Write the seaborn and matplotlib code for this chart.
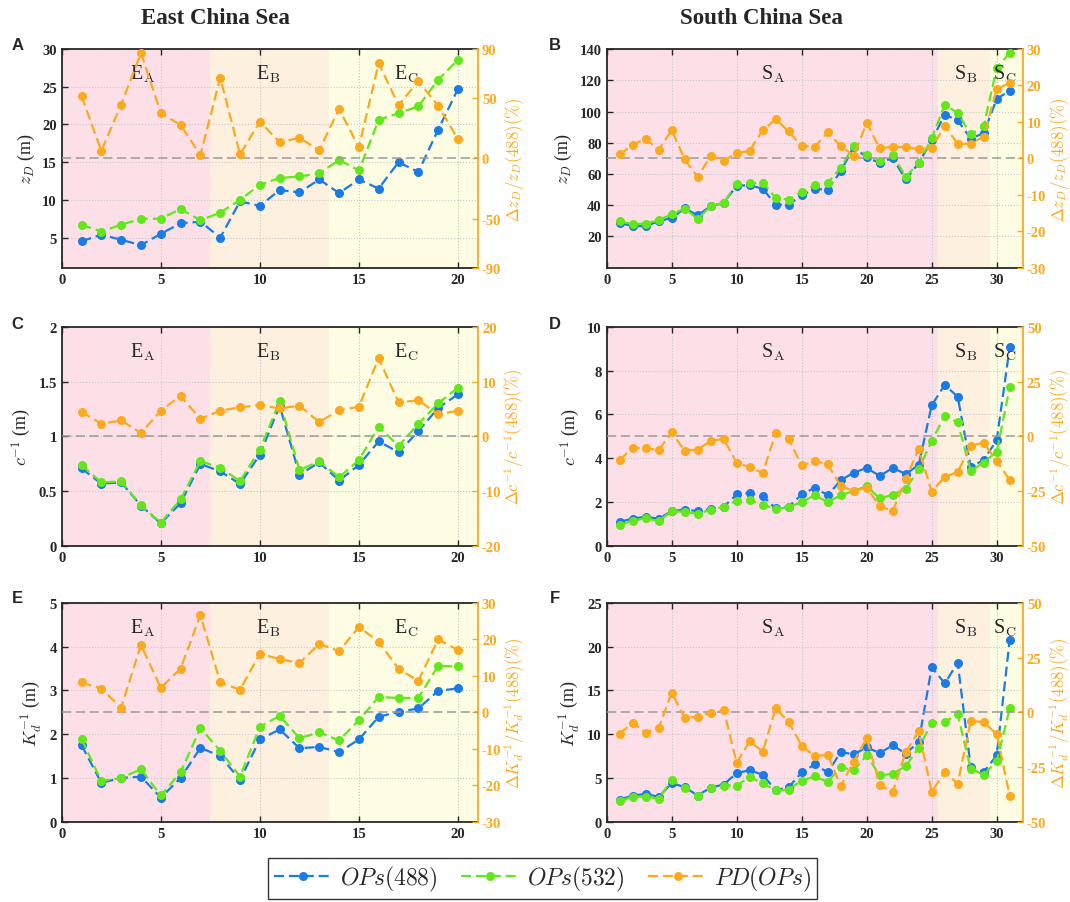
import numpy as np
import matplotlib
matplotlib.use('Agg')
import matplotlib.pyplot as plt
from matplotlib.lines import Line2D
from matplotlib.ticker import FuncFormatter
import seaborn as sns

# estaciones
stations_ecs = np.arange(1, 21)
stations_scs = np.arange(1, 32)

# z_D (m)
zd488_ecs = [4.5, 5.4, 4.7, 4.0, 5.5, 6.9, 7.1, 5.0, 9.8, 9.2, 11.3, 11.0, 12.7, 10.9, 12.7, 11.5, 15.0, 13.7, 19.3, 24.7]
zd532_ecs = [6.7, 5.8, 6.7, 7.5, 7.5, 8.8, 7.3, 8.3, 10.0, 12.0, 12.9, 13.1, 13.5, 15.3, 13.9, 20.6, 21.5, 22.4, 25.9, 28.6]
pd_zd_ecs = [51.2, 6.1, 44.3, 86.7, 37.4, 27.4, 2.8, 66.5, 3.3, 30.2, 13.3, 16.9, 6.6, 40.7, 9.1, 78.4, 43.8, 63.4, 43.5, 15.8]

zd488_scs = [28.7, 26.6, 26.6, 29.8, 31.9, 38.0, 33.6, 39.4, 41.5, 52.6, 52.8, 50.6, 40.4, 40.4, 46.4, 50.4, 50.0, 61.7,
             77.3, 70.6, 67.2, 70.2, 56.6, 67.0, 81.5, 97.9, 94.5, 82.6, 86.2, 108.0, 113.4]
zd532_scs = [29.6, 27.9, 28.3, 30.4, 34.3, 37.9, 31.3, 39.4, 41.5, 53.6, 54.0, 54.5, 44.7, 43.6, 48.5, 52.8, 54.3, 64.0,
             77.9, 72.1, 68.1, 72.3, 58.3, 67.0, 82.8, 104.3, 99.1, 85.3, 90.6, 128.0, 137.4]
pd_zd_scs = [1.1, 3.7, 5.4, 2.3, 7.8, -0.3, -5.1, 0.7, -0.6, 1.4, 2.1, 7.7, 10.7, 7.4, 3.4, 3.2, 7.1, 3.4, 0.7, 9.7,
             2.8, 3.2, 3.1, 2.5, 2.8, 8.9, 4.0, 4.0, 6.0, 19.0, 20.7]

# c^-1 (m)
c488_ecs = [0.707, 0.567, 0.579, 0.366, 0.204, 0.39, 0.747, 0.68, 0.564, 0.832, 1.28, 0.649, 0.762, 0.595, 0.738,
            0.954, 0.854, 1.046, 1.259, 1.384]
c532_ecs = [0.735, 0.579, 0.588, 0.369, 0.21, 0.424, 0.774, 0.713, 0.591, 0.878, 1.32, 0.692, 0.771, 0.625, 0.783,
            1.088, 0.912, 1.113, 1.302, 1.445]
pd_c_ecs = [4.5, 2.3, 2.9, 0.6, 4.7, 7.4, 3.2, 4.7, 5.3, 5.7, 5.1, 5.6, 2.6, 4.8, 5.4, 14.3, 6.2, 6.6, 4.0, 4.7]

c488_scs = [1.09, 1.24, 1.32, 1.23, 1.58, 1.65, 1.58, 1.68, 1.78, 2.34, 2.42, 2.27, 1.70, 1.79, 2.34, 2.65, 2.31, 2.99,
            3.34, 3.55, 3.19, 3.55, 3.28, 3.69, 6.42, 7.35, 6.81, 3.60, 3.92, 4.82, 9.08]
c532_scs = [0.96, 1.13, 1.26, 1.12, 1.58, 1.55, 1.45, 1.65, 1.78, 2.05, 2.08, 1.88, 1.68, 1.76, 1.99, 2.31, 1.99, 2.31,
            2.50, 2.73, 2.16, 2.33, 2.60, 3.49, 4.79, 5.94, 5.64, 3.42, 3.80, 4.29, 7.24]
pd_c_scs = [-10.8, -5.2, -5.5, -6.3, 1.8, -6.6, -6.1, -2.1, -1.2, -12.2, -14.0, -16.8, 1.4, -1.4, -13.3, -11.3, -12.8,
            -22.7, -25.0, -23.5, -31.9, -34.1, -19.7, -5.6, -25.3, -18.6, -16.3, -4.3, -2.9, -11.3, -20.0]

# K_d^-1 (m)
k488_ecs = [1.75, 0.89, 1.0, 1.03, 0.55, 1.0, 1.69, 1.50, 0.96, 1.88, 2.11, 1.68, 1.71, 1.59, 1.88, 2.40, 2.51, 2.59,
            2.99, 3.05]
k532_ecs = [1.89, 0.93, 1.0, 1.20, 0.60, 1.13, 2.14, 1.62, 1.03, 2.17, 2.42, 1.91, 2.04, 1.86, 2.32, 2.85, 2.83, 2.83,
            3.56, 3.55]
pd_k_ecs = [8.2, 6.5, 1.3, 18.5, 6.7, 12.0, 26.7, 8.2, 6.2, 16.1, 14.6, 13.5, 18.8, 16.8, 23.4, 19.4, 11.9, 8.7, 20.0, 17.1]

k488_scs = [2.53, 2.99, 3.18, 2.84, 4.41, 3.95, 2.99, 3.91, 4.25, 5.56, 5.90, 5.36, 3.60, 3.95, 5.63, 6.55, 5.63, 7.97,
            7.70, 8.51, 7.85, 8.74, 7.78, 9.12, 17.66, 15.82, 18.16, 6.25, 5.67, 7.59, 20.8]
k532_scs = [2.34, 2.87, 2.87, 2.64, 4.79, 3.83, 2.95, 3.83, 4.14, 4.14, 5.10, 4.37, 3.60, 3.68, 4.71, 5.17, 4.56, 6.25,
            5.86, 7.59, 5.29, 5.48, 6.36, 8.43, 11.30, 11.42, 12.26, 6.05, 5.36, 6.90, 12.95]
pd_k_scs = [-9.8, -4.7, -9.3, -7.2, 9.0, -2.5, -2.0, -0.2, 1.2, -23.1, -13.2, -17.9, 1.8, -4.4, -15.2, -20.1, -19.3,
            -33.8, -22.5, -11.8, -33.1, -36.6, -18.2, -8.7, -36.3, -27.4, -32.6, -4.0, -4.4, -10.0, -38.1]

# zonas
regions_ecs = [0, 7.5, 13.5, 21]
regions_scs = [0, 25.5, 29.5, 32]
names_ecs = ['E', 'E', 'E']
names_scs = ['S', 'S', 'S']
subs = ['A', 'B', 'C']

BLUE = '#1a7be6'
GREEN = '#62e61c'
ORANGE = '#fba91e'
SHADES = ['#fde0e7', '#fdf0de', '#fefde3']
DASH = (0, (4.5, 2.2))

sns.set_style('ticks')
plt.rcParams['font.family'] = ['Liberation Serif', 'DejaVu Serif']
plt.rcParams['mathtext.fontset'] = 'cm'
plt.rcParams['axes.linewidth'] = 1.3
plt.rcParams['axes.unicode_minus'] = False

fig = plt.figure(figsize=(10.7, 9.03), dpi=100)

fmt = FuncFormatter(lambda v, _: f'{v:g}')


def draw_panel(rect, x, y488, y532, pdv, ylim, yticks, rlim, rticks, xlim, xticks,
               regions, names, label_x, ylabel, rlabel):
    ax = fig.add_axes(rect)
    for i in range(3):
        ax.axvspan(regions[i], regions[i + 1], color=SHADES[i], lw=0, zorder=0)
    ax.grid(True, ls=':', color='#c8c8c8', lw=0.8)
    ax.set_axisbelow(True)
    for y, c in [(y488, BLUE), (y532, GREEN)]:
        sns.lineplot(x=x, y=y, ax=ax, color=c, marker='o', ls=DASH, lw=1.6,
                     markersize=6.5, markeredgewidth=0, zorder=3)
    ax.set_xlim(xlim)
    ax.set_ylim(ylim)
    ax.set_xticks(xticks)
    ax.set_yticks(yticks)
    ax.yaxis.set_major_formatter(fmt)
    ax.tick_params(direction='in', top=True, length=4, width=1, labelsize=10.5)
    for t in ax.get_xticklabels() + ax.get_yticklabels():
        t.set_fontweight('bold')
    ax.spines['right'].set_visible(False)
    ax.set_ylabel(ylabel, fontsize=13)
    ax.set_xlabel('')
    for k in range(3):
        ax.text(label_x[k], 0.89, names[k] + r'$_{\mathrm{' + subs[k] + '}}$', transform=ax.get_xaxis_transform(),
                ha='center', va='center', fontsize=14.5)

    ax2 = ax.twinx()
    ax2.axhline(0, color='#9a9a9a', ls=(0, (6, 3)), lw=1.1, zorder=1)
    sns.lineplot(x=x, y=pdv, ax=ax2, color=ORANGE, marker='o', ls=DASH, lw=1.6,
                 markersize=6.5, markeredgewidth=0, zorder=3)
    ax2.set_ylim(rlim)
    ax2.set_yticks(rticks)
    ax2.tick_params(axis='y', direction='in', length=4, width=1, colors=ORANGE, labelsize=10.5, pad=3)
    for t in ax2.get_yticklabels():
        t.set_fontweight('bold')
    for s in ['left', 'top', 'bottom']:
        ax2.spines[s].set_visible(False)
    ax2.spines['right'].set_color(ORANGE)
    ax2.spines['right'].set_linewidth(1.3)
    ax2.set_ylabel(rlabel, color=ORANGE, fontsize=12, labelpad=1)
    return ax


w = 0.3888
h = 0.2422
lefts = [0.0577, 0.567]
bottoms = [0.7024, 0.3946, 0.0889]

xt_ecs = [0, 5, 10, 15, 20]
xt_scs = [0, 5, 10, 15, 20, 25, 30]
lab_ecs = [4.1, 10.4, 17.4]
lab_scs = [12.8, 27.6, 30.6]

draw_panel([lefts[0], bottoms[0], w, h], stations_ecs, zd488_ecs, zd532_ecs, pd_zd_ecs,
           (1, 30), [5, 10, 15, 20, 25, 30], (-90, 90), [-90, -50, 0, 50, 90], (0, 21), xt_ecs,
           regions_ecs, names_ecs, lab_ecs, r'$z_D$ (m)', r'$\Delta z_D/z_D(488)(\%)$')
draw_panel([lefts[1], bottoms[0], w, h], stations_scs, zd488_scs, zd532_scs, pd_zd_scs,
           (0, 140), [20, 40, 60, 80, 100, 120, 140], (-30, 30), [-30, -20, -10, 0, 10, 20, 30], (0, 32), xt_scs,
           regions_scs, names_scs, lab_scs, r'$z_D$ (m)', r'$\Delta z_D/z_D(488)(\%)$')
draw_panel([lefts[0], bottoms[1], w, h], stations_ecs, c488_ecs, c532_ecs, pd_c_ecs,
           (0, 2), [0, 0.5, 1, 1.5, 2], (-20, 20), [-20, -10, 0, 10, 20], (0, 21), xt_ecs,
           regions_ecs, names_ecs, lab_ecs, r'$c^{-1}$ (m)', r'$\Delta c^{-1}/c^{-1}(488)(\%)$')
draw_panel([lefts[1], bottoms[1], w, h], stations_scs, c488_scs, c532_scs, pd_c_scs,
           (0, 10), [0, 2, 4, 6, 8, 10], (-50, 50), [-50, -25, 0, 25, 50], (0, 32), xt_scs,
           regions_scs, names_scs, lab_scs, r'$c^{-1}$ (m)', r'$\Delta c^{-1}/c^{-1}(488)(\%)$')
draw_panel([lefts[0], bottoms[2], w, h], stations_ecs, k488_ecs, k532_ecs, pd_k_ecs,
           (0, 5), [0, 1, 2, 3, 4, 5], (-30, 30), [-30, -20, -10, 0, 10, 20, 30], (0, 21), xt_ecs,
           regions_ecs, names_ecs, lab_ecs, r'$K_d^{-1}$ (m)', r'$\Delta K_d^{-1}/K_d^{-1}(488)(\%)$')
draw_panel([lefts[1], bottoms[2], w, h], stations_scs, k488_scs, k532_scs, pd_k_scs,
           (0, 25), [0, 5, 10, 15, 20, 25], (-50, 50), [-50, -25, 0, 25, 50], (0, 32), xt_scs,
           regions_scs, names_scs, lab_scs, r'$K_d^{-1}$ (m)', r'$\Delta K_d^{-1}/K_d^{-1}(488)(\%)$')

# titulos y letras
fig.text(0.201, 0.979, 'East China Sea', ha='center', va='center', fontsize=16.5, fontweight='bold')
fig.text(0.712, 0.979, 'South China Sea', ha='center', va='center', fontsize=16.5, fontweight='bold')
for letter, (px, py) in zip('ABCDEF', [(0.016, 0.950), (0.519, 0.950), (0.016, 0.641), (0.519, 0.641),
                                        (0.016, 0.337), (0.519, 0.337)]):
    fig.text(px, py, letter, ha='center', va='center', fontsize=12, fontweight='bold', family='Liberation Sans')

handles = [Line2D([], [], color=c, marker='o', ls=DASH, lw=1.6, markersize=6.5, markeredgewidth=0)
           for c in [BLUE, GREEN, ORANGE]]
leg = fig.legend(handles, [r'$OPs(488)$', r'$OPs(532)$', r'$PD(OPs)$'], loc='center',
                 bbox_to_anchor=(0.507, 0.026), ncol=3, fontsize=17, frameon=True, fancybox=False,
                 edgecolor='black', handlelength=2.5, handletextpad=0.3, columnspacing=1.0, borderpad=0.25)
leg.get_frame().set_linewidth(1.0)

fig.savefig('out.png', dpi=100)
